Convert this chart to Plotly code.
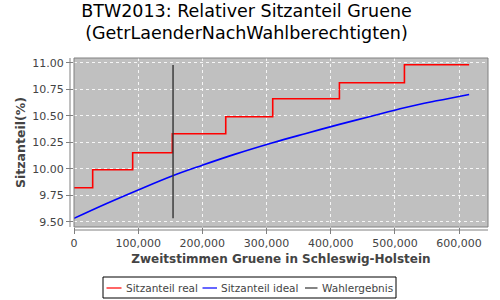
import plotly.graph_objects as go

# ---- data ----
real_x = [0, 29100, 91400, 153200, 236400, 309600, 413500, 514800, 615600]
real_y = [9.82, 9.99, 10.15, 10.33, 10.49, 10.66, 10.81, 10.98, 10.98]

ideal_x = [0, 50000, 100000, 153800, 200000, 250000, 309600, 360000, 413500, 460000, 514800, 565000, 615600]
ideal_y = [9.532, 9.67, 9.80, 9.934, 10.033, 10.135, 10.245, 10.33, 10.418, 10.49, 10.575, 10.64, 10.70]

wahl_x = [154300, 154300]
wahl_y = [9.532, 10.978]

x_ticks = [0, 100000, 200000, 300000, 400000, 500000, 600000]
y_ticks = [9.50, 9.75, 10.00, 10.25, 10.50, 10.75, 11.00]

legend_names = ["Sitzanteil real", "Sitzanteil ideal", "Wahlergebnis"]
legend_colors = ["#FF0000", "#0000FF", "#333333"]

# ---- layout geometry (pixels) ----
W, H = 500, 300
L, R, T, B = 74, 12, 58, 73
PW, PH = W - L - R, H - T - B

def px(xp):
    return (xp - L) / PW

def py(yp):
    return (H - B - yp) / PH

FONT = "DejaVu Sans"

fig = go.Figure()
fig.add_trace(go.Scatter(x=real_x, y=real_y, mode="lines", line_shape="hv",
                         line=dict(color=legend_colors[0], width=1.6),
                         name=legend_names[0], showlegend=False))
fig.add_trace(go.Scatter(x=ideal_x, y=ideal_y, mode="lines", line_shape="spline",
                         line=dict(color=legend_colors[1], width=1.6),
                         name=legend_names[1], showlegend=False))
fig.add_trace(go.Scatter(x=wahl_x, y=wahl_y, mode="lines",
                         line=dict(color=legend_colors[2], width=1.4),
                         name=legend_names[2], showlegend=False))

shapes = []
annotations = []
# plot border
shapes.append(dict(type="rect", xref="paper", yref="paper", x0=0, x1=1, y0=0, y1=1,
                   line=dict(color="#808080", width=1), layer="above"))
# offset axis lines
shapes.append(dict(type="line", xref="paper", yref="paper", x0=px(70), x1=px(70), y0=0, y1=1,
                   line=dict(color="#808080", width=1)))
shapes.append(dict(type="line", xref="paper", yref="paper", x0=0, x1=1, y0=py(230), y1=py(230),
                   line=dict(color="#808080", width=1)))

# custom legend
shapes.append(dict(type="rect", xref="paper", yref="paper", x0=px(103), x1=px(396),
                   y0=py(298), y1=py(277), line=dict(color="black", width=1),
                   fillcolor="white"))
item_line_x = [(106.5, 121.5), (202.5, 217), (305, 317.5)]
item_text_x = [124, 219, 320]
ly = 288
for (x0, x1), tx, name, col in zip(item_line_x, item_text_x, legend_names, legend_colors):
    shapes.append(dict(type="line", xref="paper", yref="paper", x0=px(x0), x1=px(x1),
                       y0=py(ly), y1=py(ly), line=dict(color=col, width=1.2)))
    annotations.append(dict(xref="paper", yref="paper", x=px(tx), y=py(ly), text=name,
                            showarrow=False, xanchor="left", yanchor="middle",
                            font=dict(family=FONT, size=10.5, color="#444444")))

fig.update_layout(
    width=W, height=H,
    margin=dict(l=L, r=R, t=T, b=B, pad=0),
    paper_bgcolor="white",
    plot_bgcolor="#C0C0C0",
    title=dict(text="BTW2013: Relativer Sitzanteil Gruene<br>(GetrLaenderNachWahlberechtigten)",
               x=0.493, xanchor="center", y=0.945, yanchor="top",
               font=dict(family=FONT, size=17.5, color="black")),
    showlegend=False,
    shapes=shapes,
    annotations=annotations,
    xaxis=dict(range=[0, 645000], tickvals=x_ticks, tickformat=",d",
               showgrid=True, gridcolor="rgba(255,255,255,0.85)", griddash="3px,3px", gridwidth=1,
               zeroline=False, showline=False, ticks="outside", ticklen=6, tickcolor="#808080",
               tickfont=dict(family=FONT, size=11, color="#444444"),
               title=dict(text="<b>Zweitstimmen Gruene in Schleswig-Holstein</b>", standoff=5,
                          font=dict(family=FONT, size=12, color="#444444"))),
    yaxis=dict(range=[9.45, 11.044], tickvals=y_ticks, tickformat=".2f",
               showgrid=True, gridcolor="rgba(255,255,255,0.85)", griddash="3px,3px", gridwidth=1,
               zeroline=False, showline=False, ticks="outside", ticklen=7, tickcolor="#808080",
               tickfont=dict(family=FONT, size=11, color="#444444"),
               title=dict(text="<b>Sitzanteil(%)</b>", standoff=3,
                          font=dict(family=FONT, size=12.5, color="#444444"))),
)

fig.write_html("out.html")
